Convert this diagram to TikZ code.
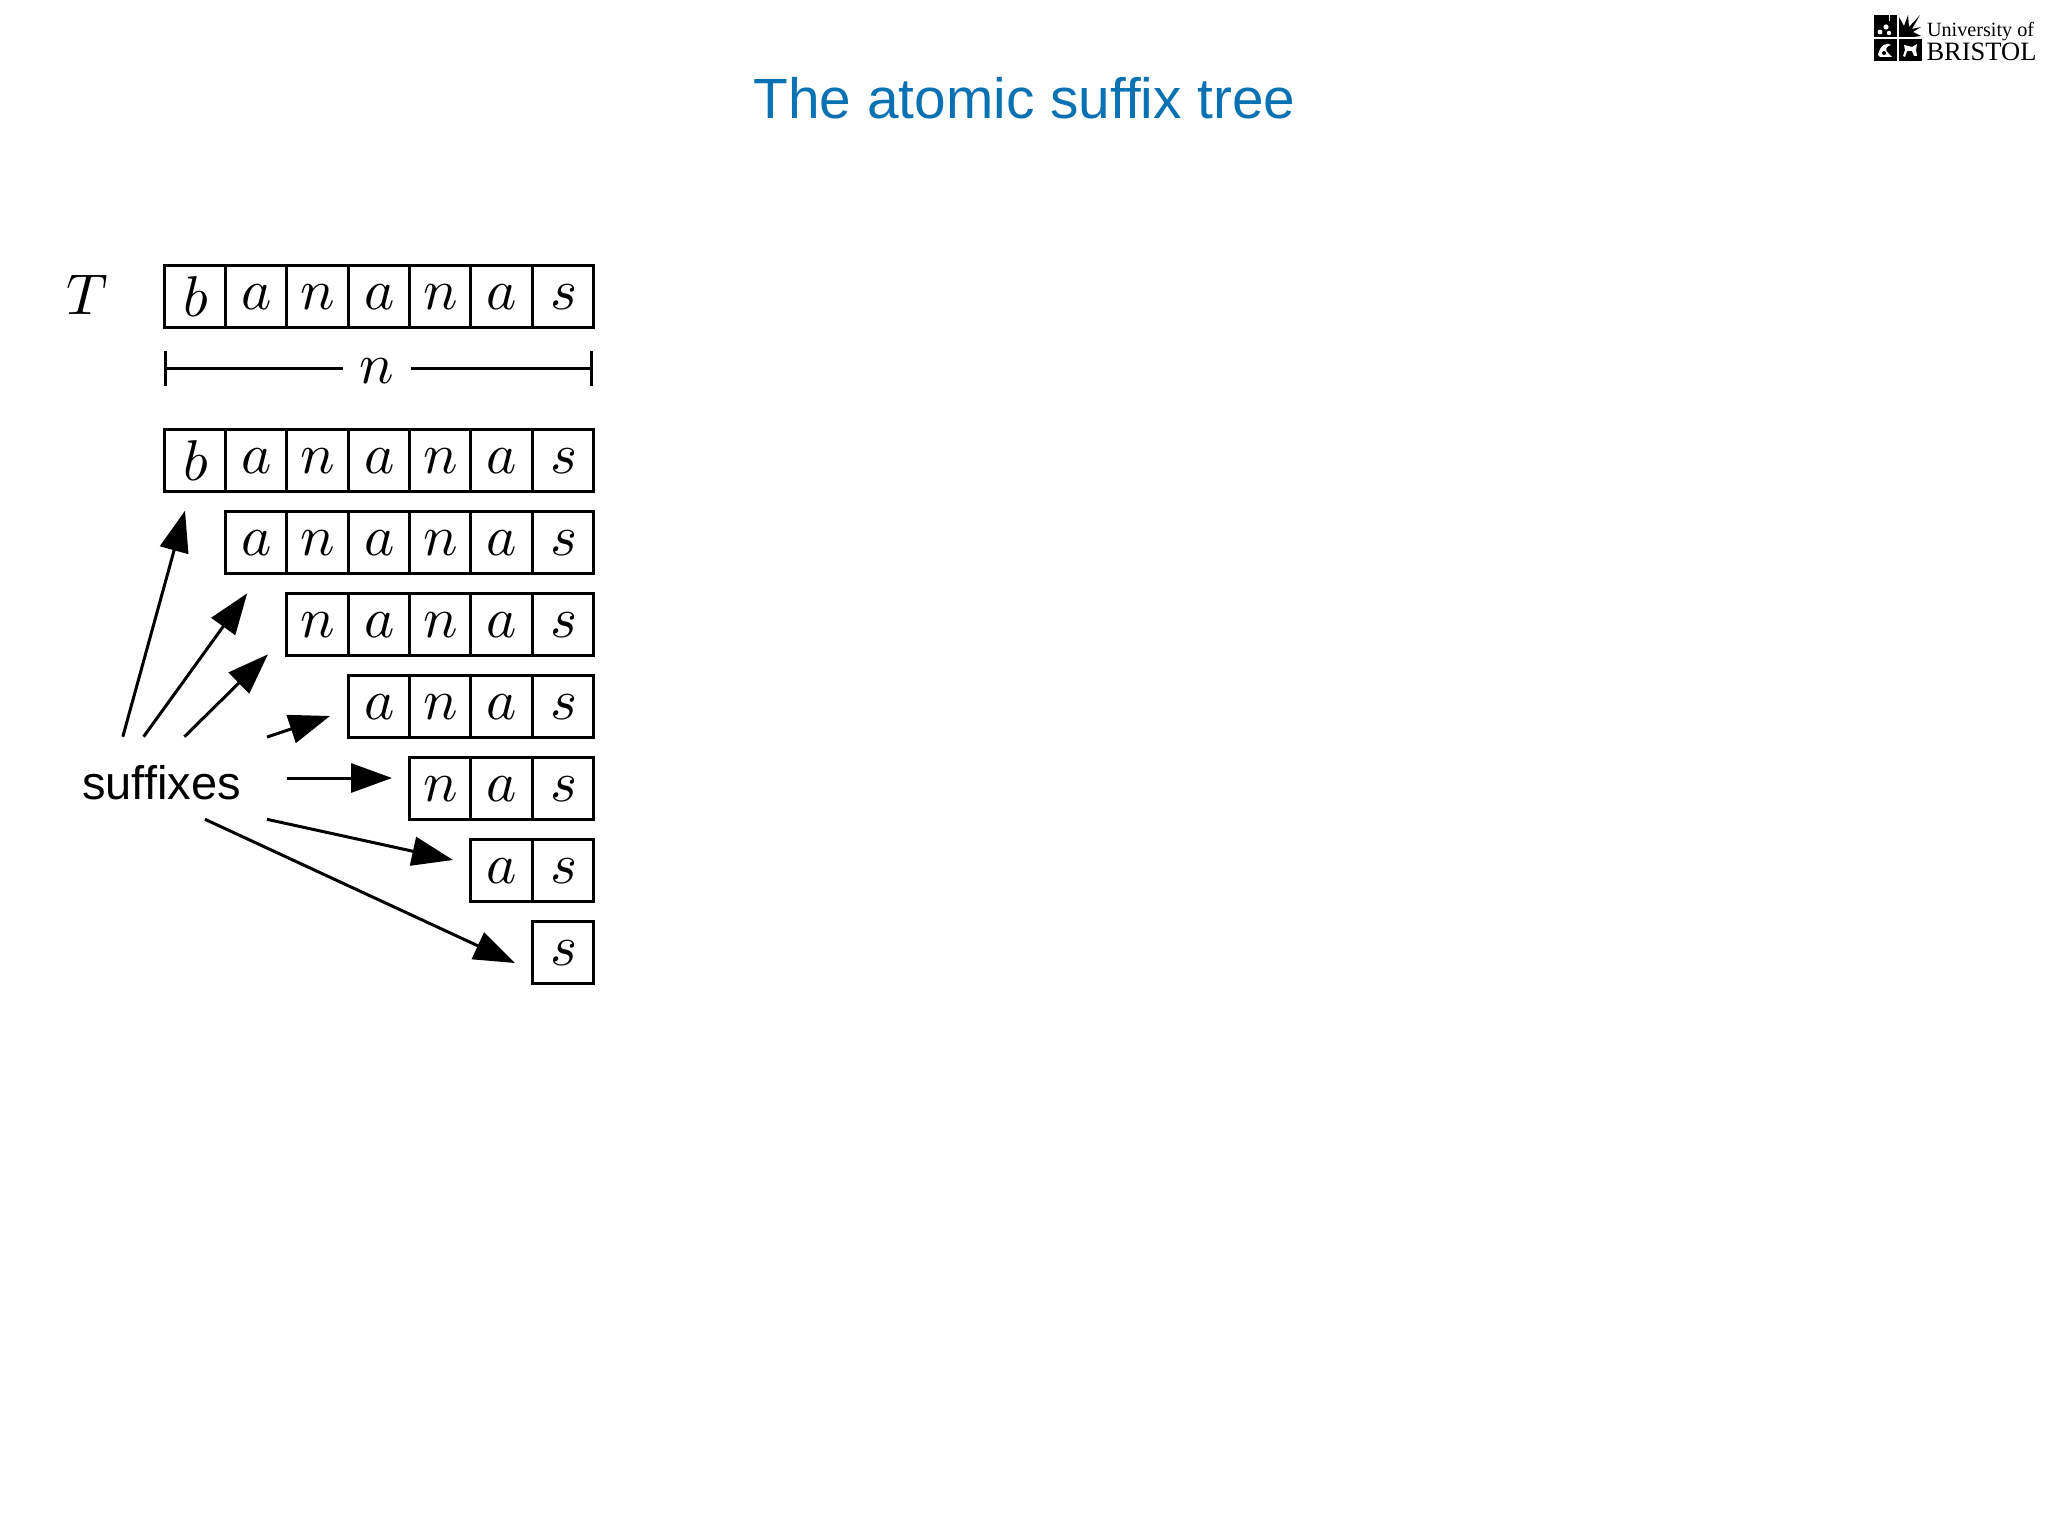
\documentclass[tikz,border=0pt]{standalone}
\usepackage{graphicx}
\usepackage{fontspec}
\setsansfont{Liberation Sans}
\newfontfamily\logofont{Liberation Serif}
\usetikzlibrary{arrows.meta}
\definecolor{titleblue}{HTML}{0A72B2}
\newcommand{\mathletter}[1]{\scalebox{5.75}{$#1$}}
\tikzset{
  cellbox/.style={draw=black,line width=3pt,minimum width=61.35pt,minimum height=62pt,inner sep=0pt,outer sep=0pt},
  pointer/.style={line width=3pt,-{Triangle[length=41pt,width=29pt]},shorten >=0pt},
  spanline/.style={line width=2.8pt},
  lettering/.style={inner sep=0pt,outer sep=0pt},
}
\begin{document}
\begin{tikzpicture}[x=1pt,y=-1pt]
\useasboundingbox (0,0) rectangle (2048,1536);
% title
\node[lettering,text=titleblue,font=\sffamily\fontsize{56.8}{60}\selectfont,anchor=base] (title) at (1024.5,119) {The atomic suffix tree};
% logo
\fill[black] (1874,21) rectangle (1897,37);
\foreach \q in {1874,1881.5,1889.5}{\fill[black] (\q,15) rectangle ++(7.5,7);}
\fill[black] (1874,39) rectangle (1897,61.5);
\fill[black] (1899,39) rectangle (1921.5,61.5);
\fill[black] (1899,37) -- (1899,17) -- (1904,26) -- (1908,15) -- (1909,27) -- (1920,15) -- (1912,29) -- (1921,27) -- (1913,32) -- (1921,36) -- (1913,37) -- cycle;
\fill[white] (1880,32) circle (2.4) (1886,27) circle (2.6) (1889,33) circle (2.2);
\fill[white] (1878,55) .. controls (1880,44) and (1888,42) .. (1891,45) .. controls (1886,46) and (1884,50) .. (1889,54) -- (1892,57) -- (1880,57) -- cycle;
\fill[black] (1884,53) circle (2);
\fill[white] (1904,45) -- (1912,47) -- (1917,44) -- (1916,50) -- (1917,56) -- (1914,56) -- (1912,51) -- (1907,51) -- (1905,57) -- (1903,56) -- (1905,50) -- cycle;
\node[lettering,anchor=base west,font=\logofont\fontsize{20.2}{21}\selectfont] (logotop) at (1927,36.5) {University of};
\node[lettering,anchor=base west,font=\logofont\fontsize{26.5}{28}\selectfont] (logobottom) at (1926.5,60.5) {BRISTOL};
% T row
\node[lettering] (tlabel) at (87,295) {\mathletter{T}};
\foreach \c/\l in {0/b,1/a,2/n,3/a,4/n,5/a,6/s}{
  \node[cellbox] (T\c) at ({164.2+61.35*(\c+0.5)},296.7) {\raisebox{-1.4pt}{\hspace{1pt}\mathletter{\l}}};
}
% span
\node[lettering,minimum width=68.5pt] (nlabel) at (377,371.5) {\mathletter{n}};
\coordinate (nL) at (164.2,368.3);
\coordinate (nR) at (593,368.3);
\draw[spanline,{Bar[width=35pt]}-] (nL) -- (nL -| nlabel.west);
\draw[spanline,{Bar[width=35pt]}-] (nR) -- (nR -| nlabel.east);
% suffix rows
\foreach \r in {0,...,6}{
  \foreach \c/\l in {0/b,1/a,2/n,3/a,4/n,5/a,6/s}{
    \ifnum\c<\r\else
      \node[cellbox] (S\r\c) at ({164.2+61.35*(\c+0.5)},{460.7+82*\r}) {\raisebox{-1.4pt}{\hspace{1pt}\mathletter{\l}}};
    \fi
  }
}
% suffixes label and arrows
\node[lettering,font=\sffamily\fontsize{47}{48}\selectfont,anchor=base] (suffixes) at (161.5,799) {suffixes};
\coordinate (a1) at (122.8,736.7); \coordinate (b1) at (185.0,510.7);
\coordinate (a2) at (143.6,736.7); \coordinate (b2) at (247.2,593.3);
\coordinate (a3) at (184.4,736.7); \coordinate (b3) at (268.0,654.3);
\coordinate (a4) at (267,737);     \coordinate (b4) at (330,716);
\coordinate (a5) at (287,778);     \coordinate (b5) at (392,778);
\coordinate (a6) at (267,819.3);   \coordinate (b6) at (453,860);
\coordinate (a7) at (205,819.3);   \coordinate (b7) at (515,963);
\foreach \i in {1,...,7}{\draw[pointer] (a\i) -- (b\i);}
\end{tikzpicture}
\end{document}
